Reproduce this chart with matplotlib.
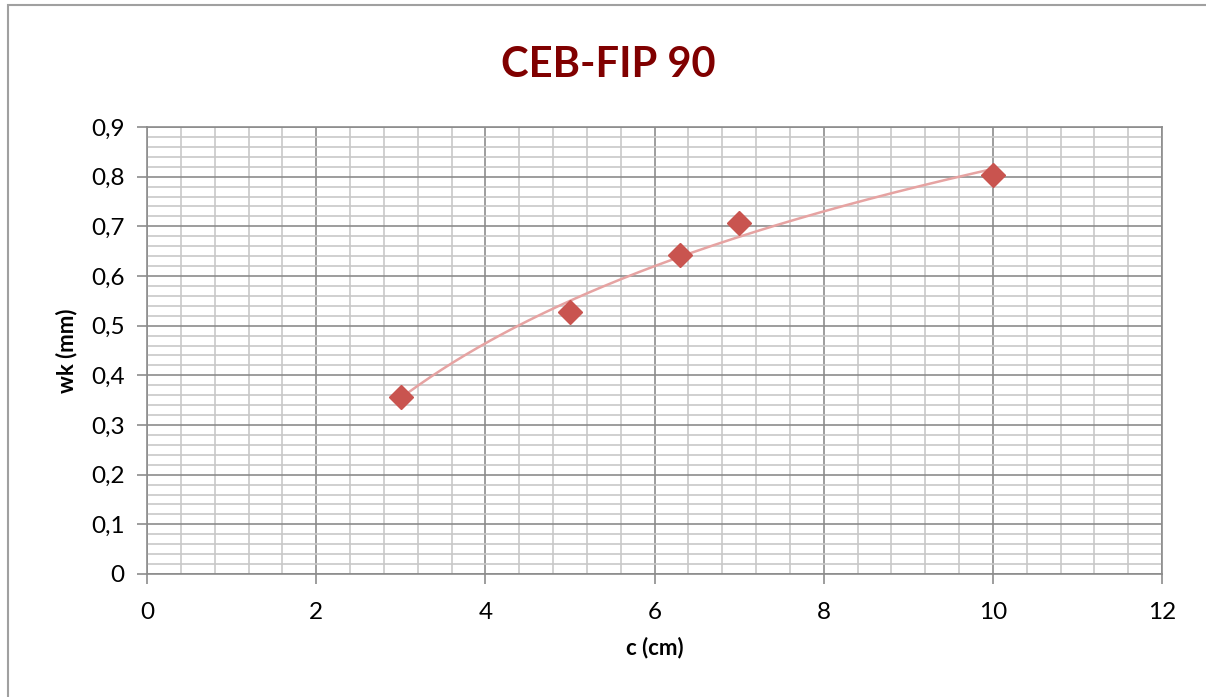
import numpy as np
import matplotlib
matplotlib.use('Agg')
import matplotlib.pyplot as plt
from matplotlib.ticker import MultipleLocator, FuncFormatter
from matplotlib.patches import Rectangle

# measured points
c_cm = [3, 5, 6.3, 7, 10]
wk_mm = [0.357, 0.528, 0.643, 0.706, 0.803]

plt.rcParams['font.family'] = ['Lato', 'DejaVu Sans']

fig = plt.figure(figsize=(12.06, 6.97), dpi=100)
ax = fig.add_axes([147/1206, 1 - 574/697, (1162-147)/1206, (574-127)/697])

# chart area border
fig.patches.append(Rectangle((8/1206, -0.1), 1.2, 1.1 - 5/697,
                             transform=fig.transFigure, fill=False,
                             edgecolor='#A0A0A0', linewidth=1.5))

# logarithmic trendline fitted on the points
k, c0 = np.polyfit(np.log(c_cm), wk_mm, 1)
xs = np.linspace(min(c_cm), max(c_cm), 200)
ax.plot(xs, k * np.log(xs) + c0, color='#E6A3A2', linewidth=1.8, zorder=3)
ax.plot(c_cm, wk_mm, linestyle='none', marker='D', markersize=12,
        color='#C9544F', zorder=4)

ax.set_xlim(0, 12)
ax.set_ylim(0, 0.9)
ax.xaxis.set_major_locator(MultipleLocator(2))
ax.xaxis.set_minor_locator(MultipleLocator(0.4))
ax.yaxis.set_major_locator(MultipleLocator(0.1))
ax.yaxis.set_minor_locator(MultipleLocator(0.02))
ax.grid(which='major', color='#8C8C8C', linewidth=1.2)
ax.grid(which='minor', color='#C8C8C8', linewidth=1.2)
ax.set_axisbelow(True)

comma = FuncFormatter(lambda v, p: ('%g' % round(v, 2)).replace('.', ','))
ax.yaxis.set_major_formatter(comma)
ax.xaxis.set_major_formatter(FuncFormatter(lambda v, p: '%d' % v))

for s in ax.spines.values():
    s.set_color('#8C8C8C')
    s.set_linewidth(1.2)
ax.tick_params(which='major', length=7, width=1.2, color='#8C8C8C',
               labelsize=17.5)
ax.tick_params(axis='x', pad=13)
ax.tick_params(axis='y', pad=9)
ax.tick_params(which='minor', length=0)

ax.set_xlabel('c (cm)', fontsize=16, fontweight='bold', labelpad=10)
ax.set_ylabel('wk (mm)', fontsize=16, fontweight='bold', labelpad=10)
fig.text(0.504, 1 - 65/697, 'CEB-FIP 90', fontsize=30, fontweight='bold',
         color='#800000', ha='center', va='center')

fig.savefig('out.png', dpi=100)
